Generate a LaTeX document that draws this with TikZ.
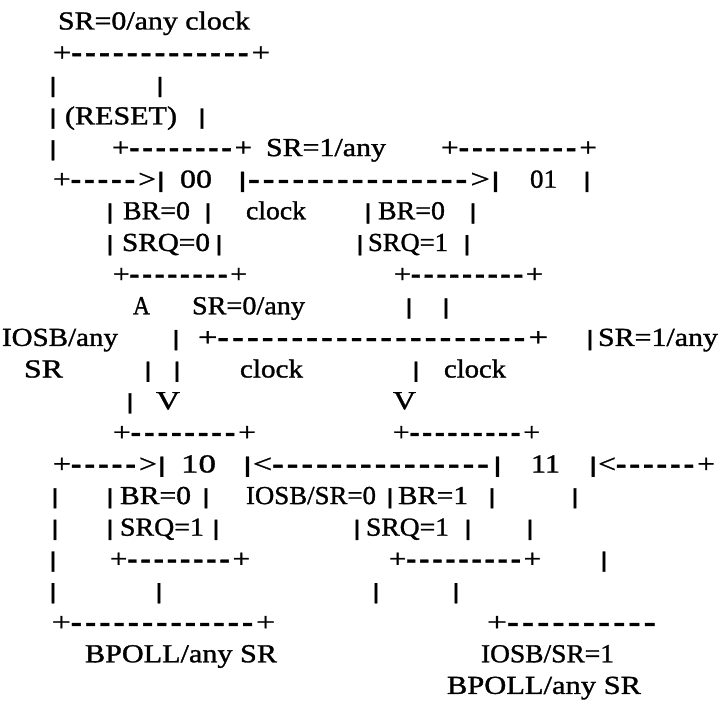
\documentclass[tikz,border=0pt]{standalone}
\usepackage{fontspec}
\setmainfont{Liberation Serif}
\newfontfamily\dfont{Liberation Serif}[FakeBold=1.1]
\usepackage{graphicx}
\newcommand\hy{\raisebox{-2.6pt}{\scalebox{1}[1.45]{-}}\kern2.5pt}
\newcommand\dsh[1]{\foreach \i in {1,...,#1}{\hy}}
\newcommand\vb{\raisebox{0.5pt}{\scalebox{1.6}[0.85]{|}}}
\tikzset{
  txt/.style={anchor=base west, inner sep=0pt, outer sep=0pt, font=\dfont\fontsize{26}{30}\selectfont},
  bar/.style={anchor=base, inner sep=0pt, outer sep=0pt, font=\dfont\fontsize{26}{30}\selectfont}
}
\newcommand\fr[5]{\node[txt] (#1) at (#2,#4) {\resizebox{\dimexpr #3pt-#2pt\relax}{\height}{#5}};}
\newcommand\pp[3]{\node[bar] (#1) at (#2,#3) {\vb};}
\begin{document}
\begin{tikzpicture}[x=1pt,y=-1pt]
\fill[white] (0,0) rectangle (728,706);
\useasboundingbox (0,0) rectangle (728,706);
% row 1
\fr{r1a}{58}{250}{29.5}{SR=0/any clock}
% row 2
\fr{r2a}{53}{270}{61.1}{+\dsh{13}+}
% row 3
\pp{r3a}{53}{92.8}
\pp{r3b}{160}{92.8}
% row 4
\pp{r4a}{53}{124.4}
\fr{r4b}{65}{177}{124.4}{(RESET)}
\pp{r4c}{202}{124.4}
% row 5
\pp{r5a}{53}{156.1}
\fr{r5b}{112}{252}{156.1}{+\dsh{8}+}
\fr{r5c}{266}{386}{156.1}{SR=1/any}
\fr{r5d}{441}{597}{156.1}{+\dsh{9}+}
% row 6
\fr{r6a}{53}{166}{187.7}{+\dsh{5}>\vb}
\fr{r6b}{180}{212}{187.7}{00}
\fr{r6c}{237}{501}{187.7}{\vb\dsh{15}>\vb}
\fr{r6d}{530}{557}{187.7}{01}
\pp{r6e}{587}{187.7}
% row 7
\pp{r7a}{110}{219.3}
\fr{r7b}{123}{190}{219.3}{BR=0}
\pp{r7c}{208}{219.3}
\fr{r7d}{246}{306}{219.3}{clock}
\pp{r7e}{368}{219.3}
\fr{r7f}{378}{445}{219.3}{BR=0}
\pp{r7g}{473}{219.3}
% row 8
\pp{r8a}{110}{251.0}
\fr{r8b}{122}{210}{251.0}{SRQ=0}
\pp{r8c}{219}{251.0}
\pp{r8d}{360}{251.0}
\fr{r8e}{368}{448}{251.0}{SRQ=1}
\pp{r8f}{467}{251.0}
% row 9
\fr{r9a}{113}{247}{282.6}{+\dsh{8}+}
\fr{r9b}{394}{543}{282.6}{+\dsh{9}+}
% row 10
\fr{r10a}{133}{150}{314.3}{A}
\fr{r10b}{192}{305}{314.3}{SR=0/any}
\pp{r10c}{409}{314.3}
\pp{r10d}{446}{314.3}
% row 11
\fr{r11a}{2}{118}{345.9}{IOSB/any}
\pp{r11b}{176}{345.9}
\fr{r11c}{198}{548}{345.9}{+\dsh{21}+}
\pp{r11d}{590}{345.9}
\fr{r11e}{598}{718}{345.9}{SR=1/any}
% row 12
\fr{r12a}{24}{63}{377.5}{SR}
\pp{r12b}{148}{377.5}
\pp{r12c}{177}{377.5}
\fr{r12d}{240}{303}{377.5}{clock}
\pp{r12e}{416}{377.5}
\fr{r12f}{444}{506}{377.5}{clock}
% row 13
\pp{r13a}{130}{409.2}
\fr{r13b}{156}{180}{409.2}{V}
\fr{r13c}{393}{416}{409.2}{V}
% row 14
\fr{r14a}{113}{256}{440.8}{+\dsh{8}+}
\fr{r14b}{393}{540}{440.8}{+\dsh{9}+}
% row 15
\fr{r15a}{53}{167}{472.5}{+\dsh{5}>\vb}
\fr{r15b}{181}{216}{472.5}{10}
\fr{r15c}{242}{503}{472.5}{\vb<\dsh{15}\vb}
\fr{r15d}{531}{560}{472.5}{11}
\fr{r15e}{588}{715}{472.5}{\vb<\dsh{6}+}
% row 16
\pp{r16a}{55}{504.1}
\pp{r16b}{110}{504.1}
\fr{r16c}{120}{191}{504.1}{BR=0}
\pp{r16d}{206}{504.1}
\fr{r16e}{246}{376}{504.1}{IOSB/SR=0}
\pp{r16f}{390}{504.1}
\fr{r16g}{398}{468}{504.1}{BR=1}
\pp{r16h}{492}{504.1}
\pp{r16i}{575}{504.1}
% row 17
\pp{r17a}{55}{535.7}
\pp{r17b}{110}{535.7}
\fr{r17c}{120}{204}{535.7}{SRQ=1}
\pp{r17d}{216}{535.7}
\pp{r17e}{357}{535.7}
\fr{r17f}{366}{449}{535.7}{SRQ=1}
\pp{r17g}{468}{535.7}
\pp{r17h}{530}{535.7}
% row 18
\pp{r18a}{53}{567.4}
\fr{r18b}{110}{250}{567.4}{+\dsh{8}+}
\fr{r18c}{389}{541}{567.4}{+\dsh{9}+}
\pp{r18d}{604}{567.4}
% row 19
\pp{r19a}{53}{599.0}
\pp{r19b}{159}{599.0}
\pp{r19c}{376}{599.0}
\pp{r19d}{456}{599.0}
% row 20
\fr{r20a}{52}{275}{630.7}{+\dsh{13}+}
\fr{r20b}{487}{659}{630.7}{+\dsh{10}}
% row 21
\fr{r21a}{85}{277}{662.3}{BPOLL/any SR}
\fr{r21b}{481}{614}{662.3}{IOSB/SR=1}
% row 22
\fr{r22a}{447}{641}{693.9}{BPOLL/any SR}
\end{tikzpicture}
\end{document}
